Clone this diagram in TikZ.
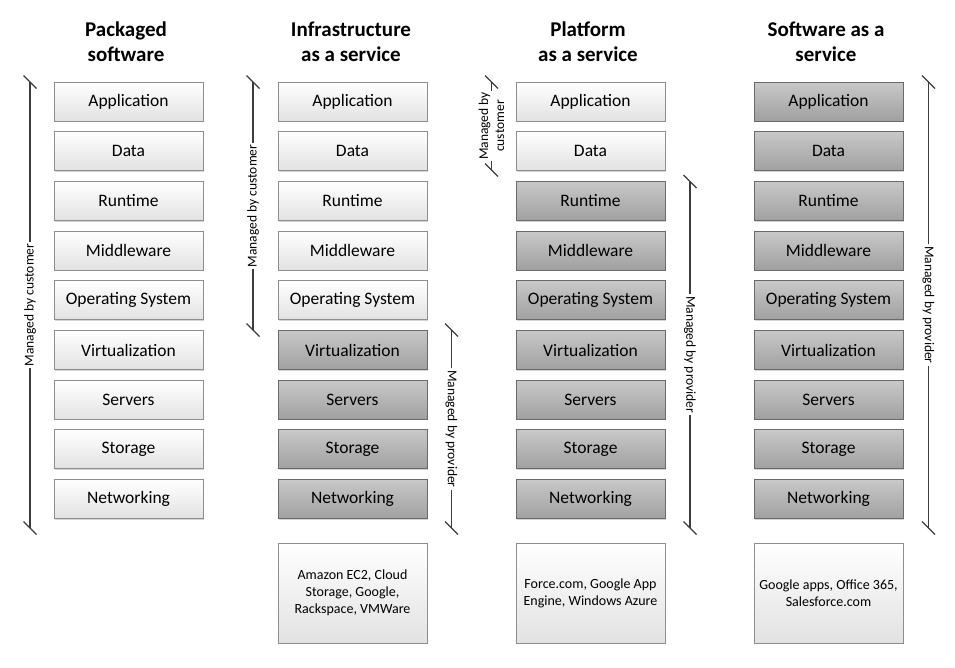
\documentclass[tikz,border=0pt]{standalone}
\usepackage{fontspec}
\setmainfont{Carlito}
\usetikzlibrary{shadows}

\definecolor{liteedge}{HTML}{8E8E8E}
\definecolor{litebot}{HTML}{E2E2E2}
\definecolor{darkedge}{HTML}{6A6A6A}
\definecolor{darktop}{HTML}{C8C8C8}
\definecolor{darkbot}{HTML}{A0A0A0}
\definecolor{bracecol}{HTML}{3C3C3C}

\tikzset{
  stackbox/.style={minimum width=149pt, minimum height=39pt, inner sep=0pt,
    font=\fontsize{17.5}{20}\selectfont, line width=0.9pt,
    drop shadow={shadow xshift=1.2pt, shadow yshift=-1.2pt, opacity=0.35}},
  litebox/.style={stackbox, draw=liteedge, top color=white, bottom color=litebot},
  darkbox/.style={stackbox, draw=darkedge, top color=darktop, bottom color=darkbot},
  examplebox/.style={litebox, minimum height=100pt, align=center,
    font=\fontsize{14}{17}\selectfont},
  heading/.style={align=center, font=\fontsize{21}{25}\selectfont\bfseries},
  braceline/.style={draw=bracecol, line width=1.3pt},
  mlabel/.style={fill=white, inner sep=2pt, align=center,
    font=\fontsize{13.5}{16}\selectfont},
}

\begin{document}
\begin{tikzpicture}[x=1pt,y=-1pt]
\useasboundingbox (0,0) rectangle (955,667);

% headings
\node[heading] (pkghead) at (126,42) {Packaged\\software};
\node[heading] (iaashead) at (351,42) {Infrastructure\\as a service};
\node[heading] (paashead) at (588,42) {Platform\\as a service};
\node[heading] (saashead) at (826,42) {Software as a\\service};

% the stacks, dark from row \dark on
\foreach \col/\cx/\dark in {pkg/128.5/10,iaas/352.5/6,paas/590.5/3,saas/828.5/1}{
  \foreach \lbl [count=\i] in {Application,Data,Runtime,Middleware,Operating System,Virtualization,Servers,Storage,Networking}{
    \ifnum\i<\dark \tikzset{cur/.style={litebox}}\else\tikzset{cur/.style={darkbox}}\fi
    \node[cur] (\col\i) at (\cx,{101.5+(\i-1)*49.7}) {\lbl};
  }
}

% examples
\node[examplebox] (iaasuse) at (352.5,593) {Amazon EC2, Cloud\\Storage, Google,\\Rackspace, VMWare};
\node[examplebox] (paasuse) at (590.5,593) {Force.com, Google App\\Engine, Windows Azure};
\node[examplebox] (saasuse) at (828.5,593) {Google apps, Office 365,\\Salesforce.com};

% who manages what
\coordinate (pkgbot) at (30,528);
\coordinate (pkgtop) at (30,82);
\coordinate (iaascbot) at (253,330);
\coordinate (iaasctop) at (253,82);
\coordinate (iaasptop) at (451.5,330);
\coordinate (iaaspbot) at (451.5,528);
\coordinate (paascbot) at (491.5,170);
\coordinate (paasctop) at (491.5,82);
\coordinate (paasptop) at (690,181.5);
\coordinate (paaspbot) at (690,528);
\coordinate (saasptop) at (928.5,82);
\coordinate (saaspbot) at (928.5,528);

\draw[braceline] (pkgbot) -- node[mlabel, rotate=90] {Managed by customer} (pkgtop);
\draw[braceline] (iaascbot) -- node[mlabel, rotate=90] {Managed by customer} (iaasctop);
\draw[braceline] (iaasptop) -- node[mlabel, rotate=-90] {Managed by provider} (iaaspbot);
\draw[braceline] (paascbot) -- node[mlabel, rotate=90, inner sep=1pt] {Managed by\\customer} (paasctop);
\draw[braceline] (paasptop) -- node[mlabel, rotate=-90] {Managed by provider} (paaspbot);
\draw[braceline] (saasptop) -- node[mlabel, rotate=-90] {Managed by provider} (saaspbot);

% end ticks
\foreach \e in {pkgbot,pkgtop,iaascbot,iaasctop,iaasptop,iaaspbot,paascbot,paasctop,paasptop,paaspbot,saasptop,saaspbot}
  \draw[braceline] ([shift={(-6.5,-6.5)}]\e) -- ([shift={(6.5,6.5)}]\e);
\end{tikzpicture}
\end{document}
